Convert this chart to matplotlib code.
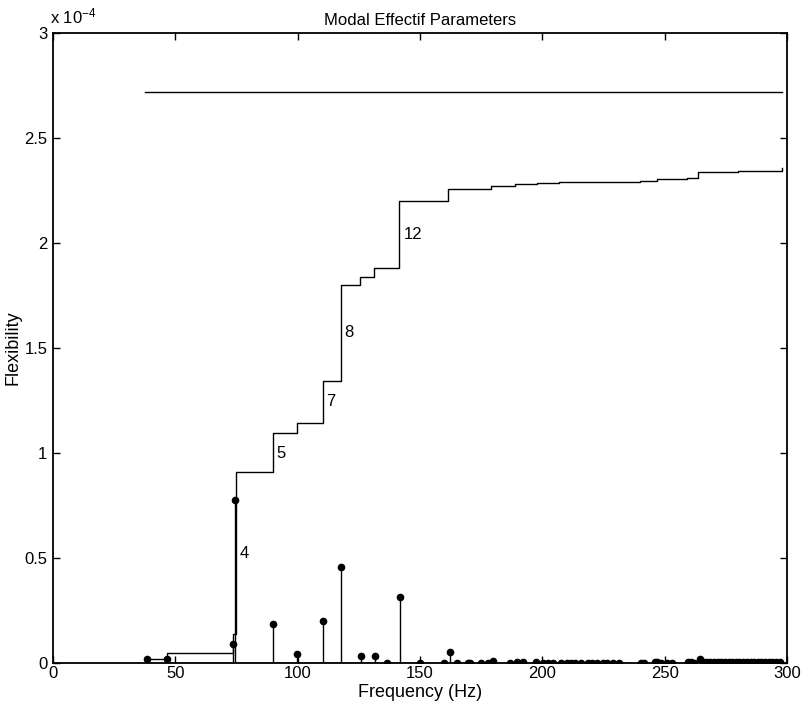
import matplotlib
matplotlib.use('Agg')
import matplotlib.pyplot as plt
import numpy as np

plt.rcParams['font.family'] = ['Liberation Sans', 'DejaVu Sans']
plt.rcParams['mathtext.default'] = 'regular'

# Modal frequencies (Hz) and effective flexibility of each mode (x 1e-4)
stem_freq = [38.4, 46.6, 73.6, 74.4, 89.8, 99.8, 110.2, 117.8, 125.9, 131.6,
             136.5, 141.9, 150.1, 159.7, 162.4, 165.1, 169.7, 170.4, 175.0, 177.9,
             180.0, 186.8, 189.5, 192.0, 197.5, 200.4, 202.5, 204.5, 207.5, 209.9,
             211.6, 213.3, 216.0, 218.8, 220.1, 222.4, 224.9, 226.5, 229.0, 231.4,
             240.2, 241.5, 246.0, 246.9, 248.7, 250.8, 252.8, 259.7, 260.7, 261.8,
             264.5, 266.0, 267.3, 268.7, 270.2, 271.6, 273.0, 274.5, 276.1, 277.6,
             279.0, 280.4, 282.0, 283.5, 285.1, 286.6, 288.0, 289.4, 291.0, 292.5,
             294.0, 295.6, 297.2]
stem_flex = [0.019, 0.019, 0.090, 0.776, 0.186, 0.043, 0.200, 0.459, 0.033, 0.033,
             0.002, 0.316, 0.002, 0.002, 0.052, 0.002, 0.002, 0.002, 0.002, 0.002,
             0.008, 0.002, 0.003, 0.003, 0.003, 0.002, 0.002, 0.002, 0.002, 0.002,
             0.002, 0.002, 0.002, 0.002, 0.002, 0.002, 0.002, 0.002, 0.002, 0.002,
             0.002, 0.002, 0.003, 0.003, 0.002, 0.002, 0.002, 0.003, 0.003, 0.002,
             0.020, 0.004, 0.003, 0.004, 0.003, 0.003, 0.004, 0.003, 0.003, 0.004,
             0.003, 0.003, 0.004, 0.003, 0.003, 0.003, 0.004, 0.003, 0.003, 0.004,
             0.003, 0.003, 0.004]

# Cumulated flexibility (staircase)
step_freq = [38.4, 46.6, 73.5, 74.6, 89.8, 99.8, 110.2, 117.6, 125.4, 131.0,
             141.6, 161.5, 178.9, 188.8, 197.7, 207.0, 240.0, 247.0, 259.0, 263.7,
             280.0, 298.0]
step_flex = [0.019, 0.048, 0.138, 0.911, 1.094, 1.144, 1.344, 1.800, 1.837, 1.880,
             2.200, 2.255, 2.270, 2.280, 2.286, 2.292, 2.297, 2.305, 2.308, 2.340,
             2.345, 2.355]

# Static flexibility
static_freq = [37.6, 298.0]
static_flex = [2.717, 2.717]

# Mode number labels
mode_labels = ['4', '5', '7', '8', '12']
label_freq = [76.4, 91.1, 111.6, 118.9, 143.2]
label_flex = [0.52, 1.00, 1.244, 1.573, 2.041]

fig = plt.figure(figsize=(8.08, 7.03), dpi=100)
ax = fig.add_axes([53/808, 40/703, 734/808, 630/703])

ax.plot(static_freq, static_flex, color='k', lw=1.0)
ax.step(step_freq, step_flex, where='post', color='k', lw=1.0)

markers, stems, base = ax.stem(stem_freq, stem_flex, linefmt='k-', markerfmt='ko', basefmt='k-')
plt.setp(markers, markersize=4.5)
plt.setp(stems, linewidth=1.0)
plt.setp(base, linewidth=1.0)

for lab, f, v in zip(mode_labels, label_freq, label_flex):
    ax.text(f, v, lab, fontsize=12, ha='left', va='center')

ax.set_xlim(0, 300)
ax.set_ylim(0, 3)
ax.set_xticks(np.arange(0, 301, 50))
ax.set_yticks(np.arange(0, 3.01, 0.5))
ax.set_yticklabels(['0', '0.5', '1', '1.5', '2', '2.5', '3'])
ax.tick_params(direction='in', top=True, right=True, length=5, width=1.0,
               labelsize=12, pad=4)
ax.tick_params(axis='x', pad=2.5)
for s in ax.spines.values():
    s.set_linewidth(1.3)

ax.set_title('Modal Effectif Parameters', fontsize=12, pad=6)
ax.set_xlabel('Frequency (Hz)', fontsize=13)
ax.xaxis.set_label_coords(0.5, -0.034)
ax.set_ylabel('Flexibility', fontsize=13)
ax.yaxis.set_label_coords(-0.043, 0.5)
fig.text(50/808, 1 - 23/703, r'x 10$^{-4}$', fontsize=12, ha='left', va='baseline')

plt.savefig('out.png', dpi=100)
